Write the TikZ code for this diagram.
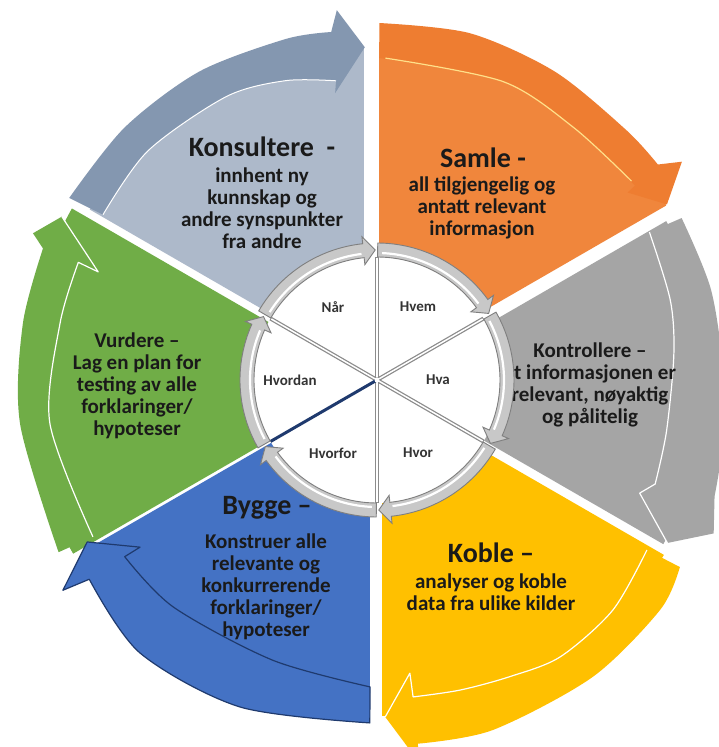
\documentclass[tikz,border=0pt]{standalone}
\usepackage{fontspec}
\setmainfont{Carlito}
\definecolor{konsband}{HTML}{8497B0}
\definecolor{konswedge}{HTML}{ADB9CA}
\definecolor{samlecol}{HTML}{EE7D31}
\definecolor{samlewedge}{HTML}{F0863C}
\definecolor{samlehl}{HTML}{FFE08A}
\definecolor{kontcol}{HTML}{A5A5A5}
\definecolor{koblecol}{HTML}{FFC000}
\definecolor{byggecol}{HTML}{4472C4}
\definecolor{byggeline}{HTML}{1F3A6E}
\definecolor{vurdcol}{HTML}{70AD47}
\definecolor{ringfill}{HTML}{C8C8C8}
\definecolor{ringdark}{HTML}{7F7F7F}
\definecolor{spokegray}{HTML}{8C8C8C}
\definecolor{textcol}{HTML}{1A1A1A}
\newcommand{\sectorwedge}[6]{%
  \begin{scope}
    \clip ([shift={(#2-90:#4)}]#2:600) -- ([shift={(#2-90:#4)}]#2+180:600)
      -- ([shift={(#2-90:600)}]#2+180:600) -- ([shift={(#2-90:600)}]#2:600) -- cycle;
    \clip ([shift={(#3+90:#5)}]#3:600) -- ([shift={(#3+90:#5)}]#3+180:600)
      -- ([shift={(#3+90:600)}]#3+180:600) -- ([shift={(#3+90:600)}]#3:600) -- cycle;
    \fill[#1] (0,0) -- (#2:#6) arc[start angle=#2, end angle=#3, radius=#6] -- cycle;
  \end{scope}}
\newcommand{\ringarrow}[2]{%
  \pgfmathsetmacro{\hb}{#2+6}%
  \pgfmathsetmacro{\tp}{#2+0.8}%
  \pgfmathsetmacro{\ts}{#1-0.3}%
  \path[ringseg] (\ts:137) arc[start angle=\ts, end angle=\hb, radius=137]
    -- (\hb:144) -- (\tp:130) -- (\hb:116) -- (\hb:123)
    arc[start angle=\hb, end angle=\ts, radius=123] -- cycle;
  \draw[white, line width=2.2] (\ts-2:127) arc[start angle=\ts-2, end angle=\hb+1, radius=127];}
\tikzset{
  sectitle/.style={font=\fontsize{28}{30}\selectfont\bfseries, text=textcol, inner sep=0pt},
  secbody/.style={font=\fontsize{21}{22}\selectfont\bfseries, text=textcol, align=center, inner sep=0pt},
  innerlabel/.style={font=\fontsize{15}{16}\selectfont\bfseries, text=black!80, inner sep=0pt},
  ringseg/.style={fill=ringfill, draw=ringdark, line width=0.9},
  spokeline/.style={line width=4, spokegray},
  spokecore/.style={line width=1.5, white},
}
\begin{document}
\begin{tikzpicture}[x=1pt, y=1pt]
\useasboundingbox (-377,-367) rectangle (342,380);
\fill[white] (-377,-367) rectangle (342,380);

% ---------- sector wedges ----------
\sectorwedge{konswedge}{150}{90}{4}{13}{334}
\sectorwedge{samlewedge}{90}{30}{2}{6.5}{338}
\sectorwedge{kontcol}{30}{-30}{7}{1}{330}
\sectorwedge{koblecol}{-30}{-90}{8}{5}{336}
\sectorwedge{byggecol}{-90}{-150}{7}{1.5}{330}
\sectorwedge{vurdcol}{-150}{-210}{1.5}{4}{350}

% ---------- outer arrow bands ----------
% Konsultere
\fill[konsband] plot[smooth] coordinates {(149.4:357.6) (135:357) (120:356) (105:353) (97.5:351)}
  -- (96.2:372) -- (92.1:333) -- (98.3:290)
  -- plot[smooth] coordinates {(97.8:302) (107:313) (118:321) (135:324) (148.9:320)} -- cycle;
\draw[white, line width=1] plot[smooth] coordinates {(97.8:302) (107:313) (118:321) (135:324) (148.9:320)};
% Samle
\fill[samlecol] plot[smooth] coordinates {(89.6:357) (75:359) (60:356) (45:353) (37.5:354)}
  -- (35.6:375) -- (31.2:339) -- (36.8:313)
  -- plot[smooth] coordinates {(37:323) (52:320) (67:324) (89.6:322)} -- cycle;
\draw[samlehl, line width=1.2] plot[smooth] coordinates {(88.5:322) (67:324) (52:320) (38:323)};
% Kontrollere
\fill[kontcol] plot[smooth] coordinates {(28:345) (15:346) (0:347) (-12:352) (-19:357)}
  -- (-24.5:370) -- (-29.3:333) -- (-23.3:286)
  -- plot[smooth] coordinates {(-20.5:297) (-10:294) (5:298) (15.3:304) (28.5:310)} -- cycle;
\draw[white, line width=1.2, line join=round] plot[smooth] coordinates {(28.5:310) (15.3:304) (5:298) (-10:294) (-20.5:297)}
  -- (-23.3:286) -- (-29.3:333);
% Koble
\fill[koblecol] plot[smooth] coordinates {(-31.7:356) (-39:364.7) (-54:367) (-71.7:368.7) (-83.6:366)}
  -- (-83.6:386) -- (-88.6:337) -- (-83.6:295)
  -- plot[smooth] coordinates {(-83.5:319) (-75:321) (-65.9:325) (-56.5:332) (-44.3:329.5) (-32.2:319)} -- cycle;
\draw[white, line width=1.2, line join=round] plot[smooth] coordinates {(-32.2:319) (-44.3:329.5) (-56.5:332) (-65.9:325) (-75:321) (-83.5:319)}
  -- (-83.6:295) -- (-88.6:337);
% Bygge
\filldraw[fill=byggecol, draw=byggeline, line width=1.2, line join=round]
  plot[smooth] coordinates {(-91.2:343) (-112.7:354.5) (-131:361.5) (-145.3:350)}
  -- (-146.2:378) -- (-150.8:332) -- (-144.8:290)
  -- plot[smooth] coordinates {(-145:308) (-131.9:305) (-110.4:299) (-91.3:307)} -- cycle;
% Vurdere
\fill[vurdcol] plot[smooth] coordinates {(208.4:362) (187:359.6) (171:358.6) (158.5:359)}
  -- (156.9:374) -- (152.6:355) -- (158.8:299)
  -- plot[smooth] coordinates {(158.5:321) (169.8:322) (187.5:330) (208.9:324.5)} -- cycle;
\draw[white, line width=1.2, line join=round] plot[smooth] coordinates {(208.9:324.5) (187.5:330) (169.8:322) (158.5:321)}
  -- (158.8:299) -- (152.6:355);

% ---------- sector texts ----------
\node[sectitle] (konsT) at (-115,233) {Konsultere\ \ -};
\node[secbody] (konsB) at (-115,172) {innhent ny\\kunnskap og\\andre synspunkter\\fra andre};
\node[sectitle] (samleT) at (106,222) {Samle -};
\node[secbody] (samleB) at (105,172) {all tilgjengelig og\\antatt relevant\\informasjon};
\node[secbody] (kontB) at (213,-5) {Kontrollere –\\at informasjonen er\\relevant, nøyaktig\\og pålitelig};
\node[sectitle] (kobleT) at (114,-173) {Koble –};
\node[secbody] (kobleB) at (114,-212) {analyser og koble\\data fra ulike kilder};
\node[sectitle] (byggeT) at (-110,-128) {Bygge –};
\node[secbody] (byggeB) at (-111,-207) {Konstruer alle\\relevante og\\konkurrerende\\forklaringer/\\hypoteser};
\node[secbody] (vurdB) at (-240,-6) {Vurdere –\\Lag en plan for\\testing av alle\\forklaringer/\\hypoteser};

% ---------- inner circle ----------
\fill[white] (0,0) circle[radius=123];
\foreach \a in {90,30,-30,-90,150} {
  \draw[spokeline] (0,0) -- (\a:123);
  \draw[spokecore] (0,0) -- (\a:122);
}
\draw[line width=3, byggeline] (0,0) -- (-150:123);
\fill[white] (0,0) circle[radius=2.5];

\ringarrow{150}{90}
\ringarrow{90}{30}
\ringarrow{30}{-30}
\ringarrow{-30}{-90}
\ringarrow{-90}{-150}
\ringarrow{-150}{-210}

\node[innerlabel] (naar) at (-44,73) {Når};
\node[innerlabel] (hvem) at (41,73) {Hvem};
\node[innerlabel] (hva) at (61,0) {Hva};
\node[innerlabel] (hvor) at (41,-73) {Hvor};
\node[innerlabel] (hvorfor) at (-44,-73) {Hvorfor};
\node[innerlabel] (hvordan) at (-87,0) {Hvordan};
\end{tikzpicture}
\end{document}
